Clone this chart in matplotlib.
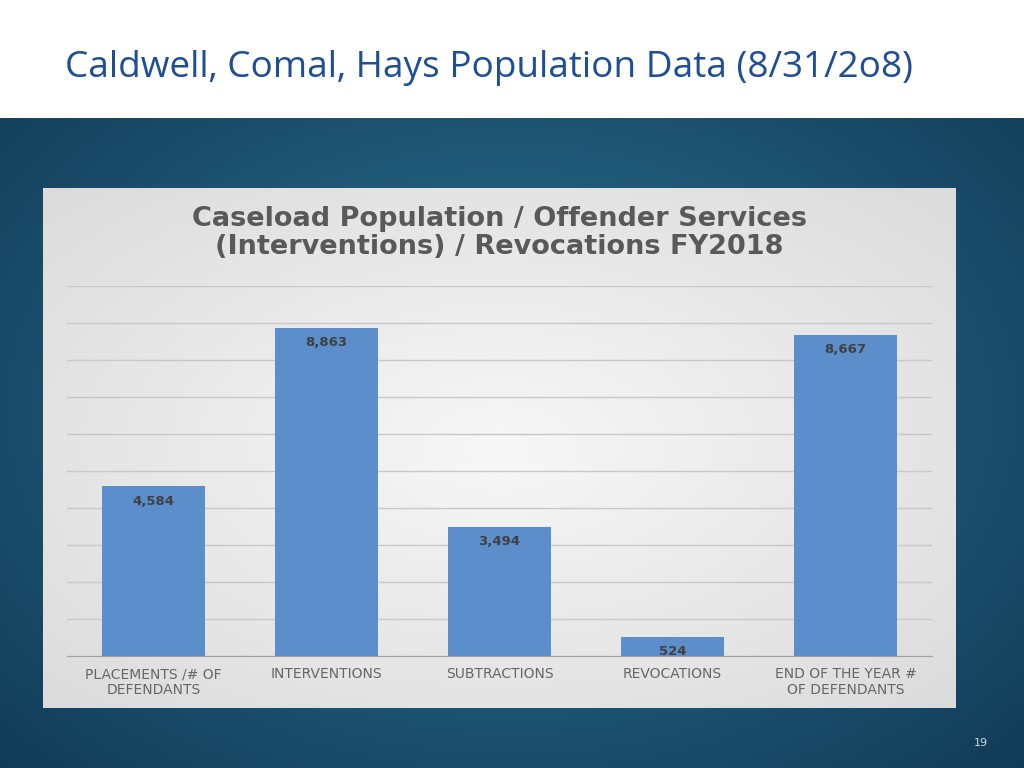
import numpy as np
import matplotlib
matplotlib.use("Agg")
import matplotlib.pyplot as plt

categories = ["PLACEMENTS /# OF\nDEFENDANTS", "INTERVENTIONS", "SUBTRACTIONS", "REVOCATIONS", "END OF THE YEAR #\nOF DEFENDANTS"]
values = [4584, 8863, 3494, 524, 8667]
value_labels = ["4,584", "8,863", "3,494", "524", "8,667"]

W, H = 1024, 768
fig = plt.figure(figsize=(W/100, H/100), dpi=100)

bg = fig.add_axes([0, 0, 1, 1 - 118/H])
yy, xx = np.mgrid[0:1:300j, 0:1:400j]
r = np.sqrt(((xx - 0.5) / 0.8) ** 2 + ((yy - 0.45) / 0.9) ** 2)
c0 = np.array([0x2c, 0x74, 0x96]) / 255
c1 = np.array([0x0e, 0x33, 0x4d]) / 255
t = np.clip(r, 0, 1)[..., None]
bg.imshow(c0 * (1 - t) + c1 * t, aspect="auto", extent=[0, 1, 0, 1])
bg.axis("off")

fig.text(65/W, 1 - 68/H, "Caldwell, Comal, Hays Population Data (8/31/2o8)",
         fontsize=26.6, color="#1f4e96", family="Open Sans", va="center", ha="left")
fig.text(981/W, 1 - 743/H, "19", fontsize=8, color="#cfdbe3", ha="center", va="center")

panel = fig.add_axes([43/W, 1 - 708/H, (956-43)/W, (708-188)/H])
py, px = np.mgrid[0:1:200j, 0:1:300j]
pr = np.sqrt(((px - 0.5) / 0.7) ** 2 + ((py - 0.5) / 0.7) ** 2)
pt = np.clip(pr, 0, 1)[..., None]
pa = np.array([0.97, 0.97, 0.97]); pb = np.array([0.86, 0.86, 0.86])
panel.imshow(pa * (1 - pt) + pb * pt, aspect="auto", extent=[0, 1, 0, 1])
panel.axis("off")
panel.text(0.5, (708-233)/(708-188), "Caseload Population / Offender Services\n(Interventions) / Revocations FY2018",
           ha="center", va="center", fontsize=19.5, fontweight="bold", color="#595959",
           linespacing=1.15, transform=panel.transAxes)

ax = fig.add_axes([67/W, 1 - 656/H, 865/W, (656-286)/H])
ax.set_facecolor("none")
x = np.arange(len(categories))
ax.bar(x, values, width=0.6, color="#5b8ecb", zorder=3)
for xi, v, lab in zip(x, values, value_labels):
    ax.text(xi, v - 220, lab, ha="center", va="top", fontsize=9.5, fontweight="bold", color="#404040", zorder=4)
ax.set_xlim(-0.5, len(categories) - 0.5)
ax.set_ylim(0, 10000)
ax.set_yticks(np.arange(0, 10001, 1000))
ax.yaxis.grid(True, color="#c8c8c8", lw=1, zorder=0)
ax.tick_params(axis="y", left=False, labelleft=False)
ax.tick_params(axis="x", length=0, pad=8)
ax.set_xticks(x)
ax.set_xticklabels(categories, fontsize=10, color="#666666")
for s in ["top", "right", "left"]:
    ax.spines[s].set_visible(False)
ax.spines["bottom"].set_color("#a0a0a0")

fig.savefig("out.png", dpi=100)
